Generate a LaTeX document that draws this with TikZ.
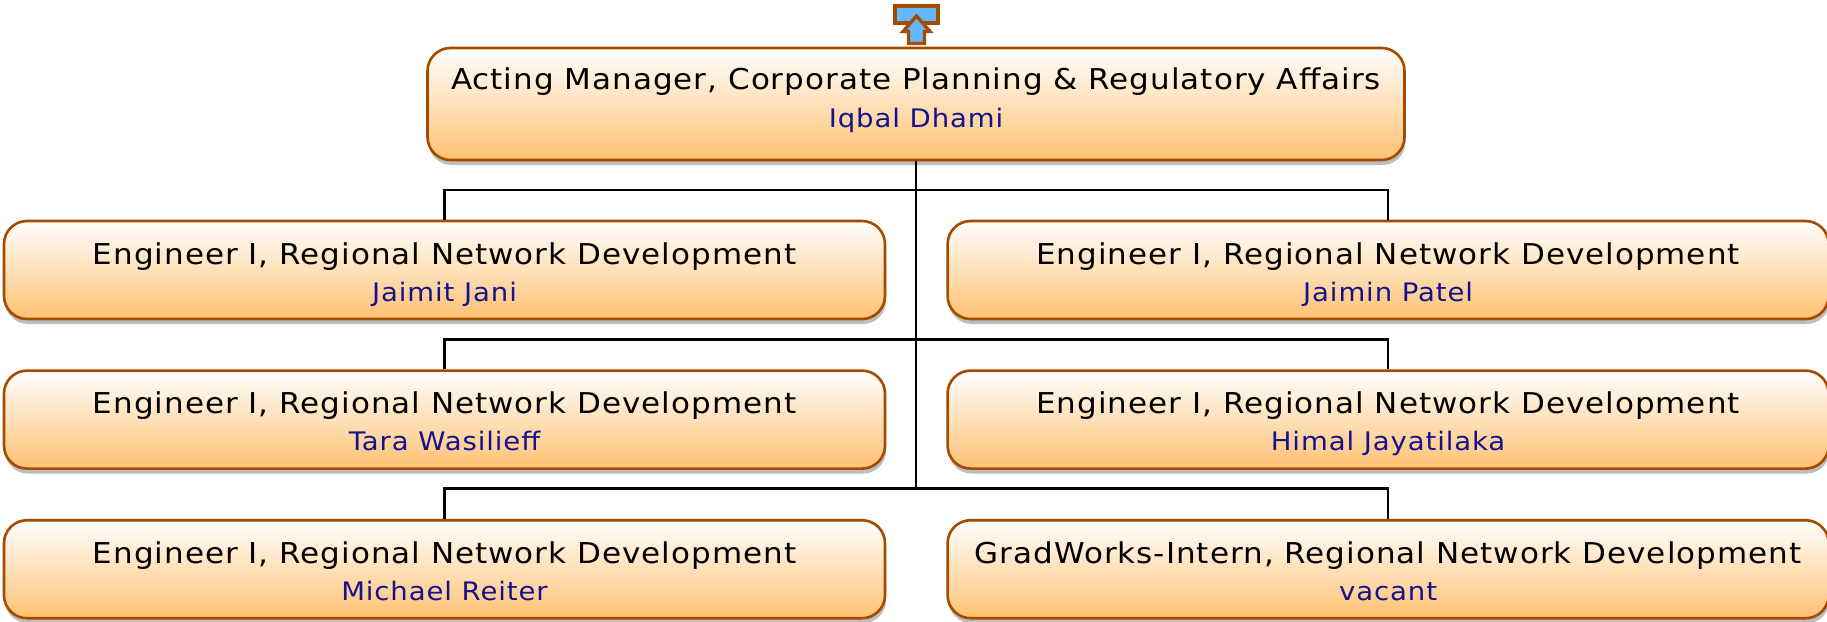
\documentclass[tikz,border=0pt]{standalone}
\usepackage{fontspec}
\setmainfont[FakeStretch=1.08,LetterSpace=3.5]{DejaVu Sans}
\usetikzlibrary{positioning, shadows}

\definecolor{boxline}{HTML}{A44B00}
\definecolor{boxfill}{HTML}{FFC172}
\definecolor{namecol}{HTML}{14128F}
\definecolor{iconfill}{HTML}{63B8FF}
\definecolor{shadowcol}{HTML}{BDBDBD}

\begin{document}
\begin{tikzpicture}[x=1pt,y=1pt,node distance=49pt and 60pt,
  org box/.style={rectangle,rounded corners=23pt,draw=boxline,line width=2.6pt,
    top color=white,bottom color=boxfill,
    drop shadow={shadow xshift=1pt,shadow yshift=-5pt,fill=shadowcol,opacity=1},
    text=black,font=\fontsize{28.7}{30}\selectfont,inner sep=0pt},
  staff box/.style={org box,minimum width=881pt,minimum height=98pt,text height=20pt,text depth=32pt},
  head box/.style={org box,minimum width=977pt,minimum height=112pt,text height=20pt,text depth=50pt},
  name text/.style={anchor=base,text=namecol,font=\fontsize{25.5}{27}\selectfont,inner sep=0pt},
  org line/.style={black,line width=2.4pt},
  icon line/.style={draw=boxline,fill=iconfill,line width=3.4pt,miter limit=4}]
  \useasboundingbox (0,0) rectangle (1827,-621);

  \node[head box] (acting) at (916,-104) {Acting Manager, Corporate Planning \& Regulatory Affairs};
  \node[staff box] (jani) at (444.5,-270) {Engineer I, Regional Network Development};
  \node[staff box] (patel) [right=of jani] {Engineer I, Regional Network Development};
  \node[staff box] (wasilieff) [below=of jani] {Engineer I, Regional Network Development};
  \node[staff box] (jayatilaka) [below=of patel] {Engineer I, Regional Network Development};
  \node[staff box] (reiter) [below=of wasilieff] {Engineer I, Regional Network Development};
  \node[staff box] (intern) [below=of jayatilaka] {GradWorks-Intern, Regional Network Development};

  \node[name text,yshift=-23pt] (acting name) at (acting) {Iqbal Dhami};
  \node[name text,yshift=-31pt] (jani name) at (jani) {Jaimit Jani};
  \node[name text,yshift=-31pt] (patel name) at (patel) {Jaimin Patel};
  \node[name text,yshift=-31pt] (wasilieff name) at (wasilieff) {Tara Wasilieff};
  \node[name text,yshift=-31pt] (jayatilaka name) at (jayatilaka) {Himal Jayatilaka};
  \node[name text,yshift=-31pt] (reiter name) at (reiter) {Michael Reiter};
  \node[name text,yshift=-31pt] (intern name) at (intern) {vacant};

  \coordinate (bus1) at (916,-190);
  \coordinate (bus2) at (916,-339.5);
  \coordinate (bus3) at (916,-488.5);
  \draw[org line] (acting.south) -- (bus3);
  \draw[org line] (jani.north) |- (bus1) -| (patel.north);
  \draw[org line] (wasilieff.north) |- (bus2) -| (jayatilaka.north);
  \draw[org line] (reiter.north) |- (bus3) -| (intern.north);

  % link icon above the head box
  \draw[icon line] (895,-6) rectangle (938,-23);
  \draw[icon line] (916.5,-16) -- (930,-31.5) -- (924.5,-31.5) -- (924.5,-43.5)
    -- (908.5,-43.5) -- (908.5,-31.5) -- (903,-31.5) -- cycle;
\end{tikzpicture}
\end{document}
